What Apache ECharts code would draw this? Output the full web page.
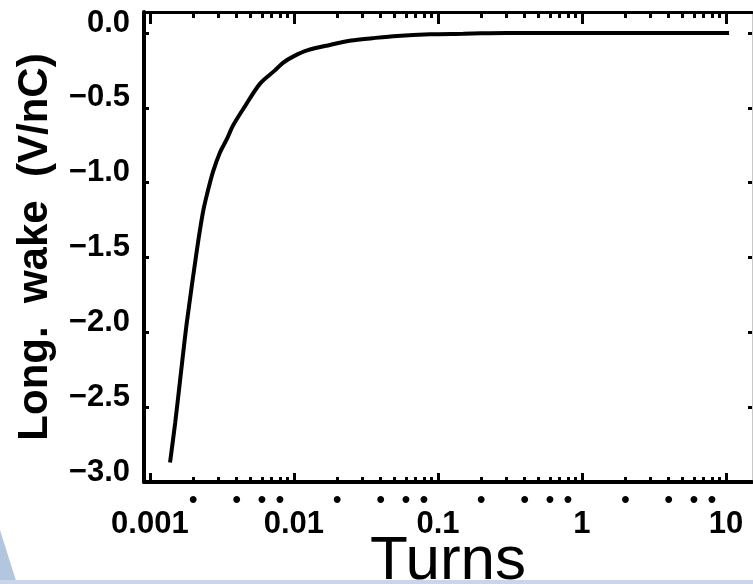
<!DOCTYPE html>
<html>
<head>
<meta charset="utf-8">
<script src="https://cdn.jsdelivr.net/npm/echarts@6/dist/echarts.min.js"></script>
<style>html,body{margin:0;padding:0;background:#fff;}#c{width:753px;height:584px;}</style>
</head>
<body>
<div id="c"></div>
<script>
// Data
const turns = [0.00138, 0.00150, 0.001616, 0.001807, 0.00212, 0.002333, 0.002489, 0.002738, 0.00306, 0.00342, 0.00377, 0.00457, 0.0058, 0.00738, 0.00839, 0.010, 0.0125, 0.0178, 0.025, 0.035, 0.052, 0.088, 0.15, 0.2, 0.3, 1, 2, 5, 10.5];
const wake  = [-2.87, -2.60, -2.33, -1.93, -1.45, -1.20, -1.08, -0.93, -0.80, -0.71, -0.62, -0.49, -0.34, -0.25, -0.20, -0.155, -0.115, -0.08, -0.05, -0.035, -0.02, -0.009, -0.005, -0.002, 0.0, 0.0, 0.0, 0.0, 0.0];
const xMajorTicks = [0.001, 0.01, 0.1, 1, 10];
const xTickLabels = ['0.001', '0.01', '0.1', '1', '10'];
const xMinorTicks = [0.002,0.003,0.004,0.005,0.006,0.007,0.008,0.009,
                     0.02,0.03,0.04,0.05,0.06,0.07,0.08,0.09,
                     0.2,0.3,0.4,0.5,0.6,0.7,0.8,0.9,
                     2,3,4,5,6,7,8,9];
const xDotTicks = [0.002,0.004,0.006,0.008, 0.02,0.04,0.06,0.08, 0.2,0.4,0.6,0.8, 2,4,6,8];
const yMin = -3.0, yMax = 0.14, yStep = 0.5;
const xMin = 0.00091, xMax = 15.15;
const xTitle = 'Turns';
const yTitle = 'Long.  wake  (V/nC)';

const chart = echarts.init(document.getElementById('c'), null, {renderer: 'canvas'});
const lbl = v => {
  for (let i = 0; i < xMajorTicks.length; i++) {
    if (Math.abs(Math.log10(v) - Math.log10(xMajorTicks[i])) < 1e-6) return xTickLabels[i];
  }
  return '';
};
const baseX = {type: 'log', logBase: 10, min: xMin, max: xMax, splitLine: {show: false}, minorTick: {show: false}};
const fontB = 'Liberation Sans';
chart.setOption({
  animation: false,
  backgroundColor: '#ffffff',
  grid: {left: 144, top: 12, right: 1, bottom: 102, containLabel: false, outerBoundsMode: 'none'},
  graphic: [
    {type: 'polygon', shape: {points: [[0, 530], [17, 584], [0, 584]]}, style: {fill: '#b3c6e0'}, z: 100},
    {type: 'rect', shape: {x: 0, y: 580, width: 753, height: 4}, style: {fill: '#c9d6ea'}, z: 100}
  ],
  xAxis: [
    Object.assign({}, baseX, {
      position: 'bottom',
      name: xTitle, nameLocation: 'middle', nameGap: 49, nameMoveOverlap: false,
      nameTextStyle: {fontFamily: fontB, fontSize: 62, color: '#000'},
      axisLine: {show: true, onZero: false, lineStyle: {color: '#000', width: 4}},
      axisTick: {show: true, inside: true, length: 9, lineStyle: {color: '#000', width: 3}, customValues: xMajorTicks},
      axisLabel: {show: true, customValues: xMajorTicks, formatter: lbl, margin: 27,
        fontFamily: fontB, fontWeight: 'bold', fontSize: 31, color: '#000'}
    }),
    Object.assign({}, baseX, {
      position: 'bottom',
      axisLine: {show: false, onZero: false},
      axisTick: {show: true, inside: true, length: 5, lineStyle: {color: '#000', width: 3}, customValues: xMinorTicks},
      axisLabel: {show: true, customValues: xDotTicks, formatter: () => '\u2022', margin: 6,
        fontFamily: fontB, fontWeight: 'bold', fontSize: 24, color: '#000'}
    }),
    Object.assign({}, baseX, {
      position: 'top',
      axisLine: {show: true, onZero: false, lineStyle: {color: '#000', width: 3}},
      axisTick: {show: true, inside: true, length: 12, lineStyle: {color: '#000', width: 3}, customValues: xMajorTicks},
      axisLabel: {show: false}
    }),
    Object.assign({}, baseX, {
      position: 'top',
      axisLine: {show: false, onZero: false},
      axisTick: {show: true, inside: true, length: 6, lineStyle: {color: '#000', width: 3}, customValues: xMinorTicks},
      axisLabel: {show: false}
    })
  ],
  yAxis: [
    {
      type: 'value', min: yMin, max: yMax, interval: yStep, position: 'left',
      name: yTitle, nameLocation: 'middle', nameGap: 88, nameRotate: 90, nameMoveOverlap: false,
      nameTextStyle: {fontFamily: fontB, fontWeight: 'bold', fontSize: 42, color: '#000'},
      splitLine: {show: false},
      axisLine: {show: true, onZero: false, lineStyle: {color: '#000', width: 4}},
      axisTick: {show: true, inside: true, length: 5, lineStyle: {color: '#000', width: 3}},
      axisLabel: {show: true, margin: 14, showMaxLabel: false,
        formatter: v => (v < 0 ? '\u2212' : '') + Math.abs(v).toFixed(1),
        fontFamily: fontB, fontWeight: 'bold', fontSize: 31, color: '#000',
        verticalAlign: 'bottom', lineHeight: 20}
    },
    {
      type: 'value', min: yMin, max: yMax, interval: yStep, position: 'right',
      splitLine: {show: false},
      axisLine: {show: true, onZero: false, lineStyle: {color: '#c8c8c8', width: 1}},
      axisTick: {show: true, inside: true, length: 4, lineStyle: {color: '#000', width: 3}},
      axisLabel: {show: false}
    }
  ],
  series: [{
    type: 'line', xAxisIndex: 0, yAxisIndex: 0,
    data: turns.map((t, i) => [t, wake[i]]),
    showSymbol: false, smooth: 0.3,
    lineStyle: {color: '#000', width: 4},
    clip: true
  }]
});
</script>
</body>
</html>
